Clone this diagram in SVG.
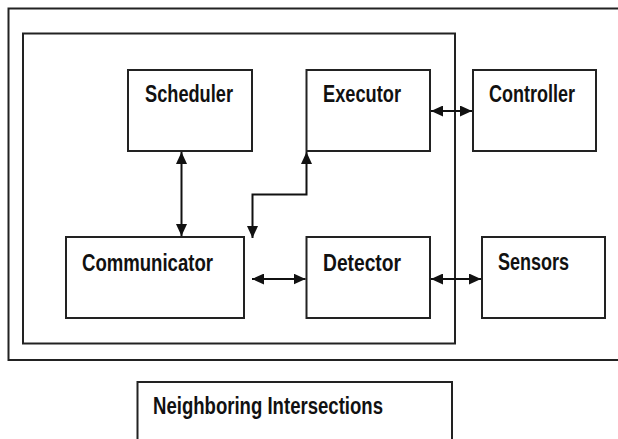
<svg xmlns="http://www.w3.org/2000/svg" width="618" height="439" viewBox="0 0 618 439">
<style>
.box{fill:#fff;stroke:#222;stroke-width:2}
.frame{fill:none;stroke:#222;stroke-width:2}
.lbl{font-family:"Liberation Sans",Arial,sans-serif;font-weight:bold;font-size:23px;fill:#111}
.conn{fill:none;stroke:#111;stroke-width:2}
</style>
<defs>
<marker id="ah" viewBox="0 0 12 11" refX="12" refY="5.5" markerWidth="12" markerHeight="11" markerUnits="userSpaceOnUse" orient="auto-start-reverse">
<path d="M0,0 L12,5.5 L0,11 Z" fill="#111"/>
</marker>
</defs>
<rect width="618" height="439" fill="#fff"/>
<g id="outer"><rect class="frame" x="8.5" y="8.5" width="630" height="351.5"/></g>
<g id="system"><rect class="frame" x="23" y="33.5" width="432" height="310"/></g>
<g id="scheduler"><rect class="box" x="128" y="70" width="124" height="81"/><text class="lbl" x="145" y="102" textLength="88" lengthAdjust="spacingAndGlyphs">Scheduler</text></g>
<g id="executor"><rect class="box" x="306.5" y="70" width="123.5" height="81"/><text class="lbl" x="323" y="102" textLength="78" lengthAdjust="spacingAndGlyphs">Executor</text></g>
<g id="controller"><rect class="box" x="473" y="70" width="123" height="81"/><text class="lbl" x="489" y="102" textLength="86" lengthAdjust="spacingAndGlyphs">Controller</text></g>
<g id="communicator"><rect class="box" x="66" y="237" width="178" height="81"/><text class="lbl" x="82" y="271" textLength="131" lengthAdjust="spacingAndGlyphs">Communicator</text></g>
<g id="detector"><rect class="box" x="306.5" y="237" width="123.5" height="81"/><text class="lbl" x="323" y="271" textLength="78" lengthAdjust="spacingAndGlyphs">Detector</text></g>
<g id="sensors"><rect class="box" x="482" y="237" width="123" height="81"/><text class="lbl" x="498" y="270" textLength="71" lengthAdjust="spacingAndGlyphs">Sensors</text></g>
<g id="neighbors"><rect class="box" x="137.5" y="382" width="314.5" height="70"/><text class="lbl" x="153" y="414" textLength="230" lengthAdjust="spacingAndGlyphs">Neighboring Intersections</text></g>
<g id="connectors">
<path class="conn" d="M181.5,152 V236" marker-start="url(#ah)" marker-end="url(#ah)"/>
<path class="conn" d="M431,111 H472" marker-start="url(#ah)" marker-end="url(#ah)"/>
<path class="conn" d="M252.5,238 V194.5 H306.5 V152" marker-start="url(#ah)" marker-end="url(#ah)"/>
<path class="conn" d="M252,279 H305.5" marker-start="url(#ah)" marker-end="url(#ah)"/>
<path class="conn" d="M431,279 H481" marker-start="url(#ah)" marker-end="url(#ah)"/>
</g>
</svg>
